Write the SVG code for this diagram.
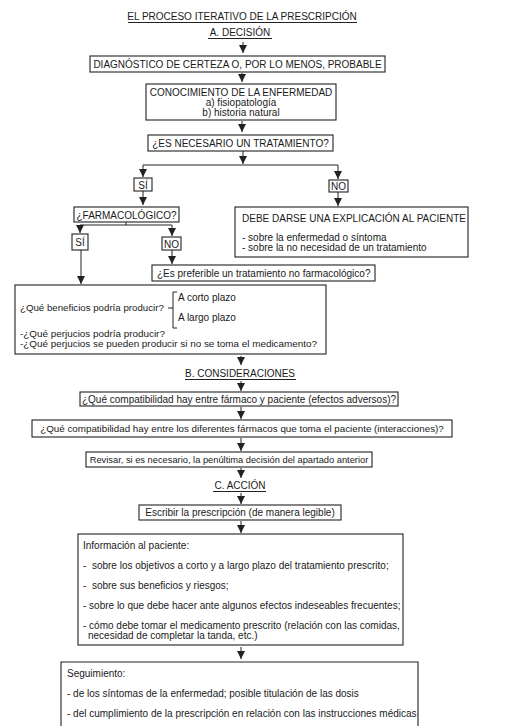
<svg xmlns="http://www.w3.org/2000/svg" width="506" height="726" viewBox="0 0 506 726">
<style>
text{font-family:"Liberation Sans",Arial,sans-serif;font-size:10px;fill:#1a1a1a}
.c{text-anchor:middle}
.s{font-size:9.9px}
.box{fill:none;stroke:#222;stroke-width:1.1}
.ln{fill:none;stroke:#222;stroke-width:1}
.ar{fill:none;stroke:#222;stroke-width:1;marker-end:url(#ah)}
</style>
<defs>
<marker id="ah" markerUnits="userSpaceOnUse" markerWidth="8" markerHeight="8" refX="7" refY="3.5" orient="auto" viewBox="0 0 7 7">
<path d="M0,0 L7,3.5 L0,7 Z" fill="#222"/>
</marker>
</defs>
<rect width="506" height="726" fill="#fff"/>

<g id="headings">
<text class="c" x="242" y="20">EL PROCESO ITERATIVO DE LA PRESCRIPCIÓN</text>
<line class="ln" x1="128" y1="22.5" x2="357" y2="22.5"/>
<text class="c" x="240" y="36">A. DECISIÓN</text>
<line class="ln" x1="208" y1="38.5" x2="272" y2="38.5"/>
<text class="c" x="240" y="377">B. CONSIDERACIONES</text>
<line class="ln" x1="185" y1="379.5" x2="296" y2="379.5"/>
<text class="c" x="240" y="489">C. ACCIÓN</text>
<line class="ln" x1="213" y1="491.5" x2="266" y2="491.5"/>
</g>

<g id="diagnostico">
<rect class="box" x="90" y="56" width="295" height="16"/>
<text class="c" x="237.5" y="68">DIAGNÓSTICO DE CERTEZA O, POR LO MENOS, PROBABLE</text>
</g>
<g id="conocimiento">
<rect class="box" x="146" y="84" width="190" height="36"/>
<text class="c" x="241" y="96">CONOCIMIENTO DE LA ENFERMEDAD</text>
<text class="c" x="241" y="106">a) fisiopatología</text>
<text class="c" x="241" y="116">b) historia natural</text>
</g>
<g id="necesario">
<rect class="box" x="148" y="135" width="185" height="16"/>
<text class="c" x="240.5" y="147">¿ES NECESARIO UN TRATAMIENTO?</text>
</g>
<g id="si1">
<rect class="box" x="134" y="178" width="18" height="13"/>
<text class="c" x="143" y="188.5">SÍ</text>
</g>
<g id="no1">
<rect class="box" x="329" y="180" width="19" height="12"/>
<text class="c" x="338.5" y="190">NO</text>
</g>
<g id="farmacologico">
<rect class="box" x="74" y="207" width="105" height="15"/>
<text class="c" x="126.5" y="218.5">¿FARMACOLÓGICO?</text>
</g>
<g id="explicacion">
<rect class="box" x="235" y="207" width="233" height="50"/>
<text x="242" y="222">DEBE DARSE UNA EXPLICACIÓN AL PACIENTE</text>
<text x="242" y="241">- sobre la enfermedad o síntoma</text>
<text x="242" y="251">- sobre la no necesidad de un tratamiento</text>
</g>
<g id="si2">
<rect class="box" x="72" y="234" width="16" height="16"/>
<text class="c" x="80" y="246">SÍ</text>
</g>
<g id="no2">
<rect class="box" x="162" y="237" width="19" height="13"/>
<text class="c" x="171.5" y="247.5">NO</text>
</g>
<g id="nofarmacologico">
<rect class="box" x="152" y="265" width="223" height="16"/>
<text x="157" y="276.5">¿Es preferible un tratamiento no farmacológico?</text>
</g>
<g id="beneficios">
<rect class="box" x="15" y="285" width="311" height="69"/>
<text x="20" y="311" style="font-size:9.7px">¿Qué beneficios podría producir?</text>
<path class="ln" d="M168,308 H173 M177,292 H173 V328 H177"/>
<text x="178" y="301">A corto plazo</text>
<text x="178" y="321">A largo plazo</text>
<text class="s" x="20" y="336.5">-¿Qué perjucios podría producir?</text>
<text class="s" x="20" y="346.5">-¿Qué perjucios se pueden producir si no se toma el medicamento?</text>
</g>
<g id="compat1">
<rect class="box" x="80" y="392" width="318" height="14"/>
<text class="c" x="239" y="403">¿Qué compatibilidad hay entre fármaco y paciente (efectos adversos)?</text>
</g>
<g id="compat2">
<rect class="box" x="32" y="420" width="420" height="17"/>
<text class="c" x="242" y="432" style="font-size:9.8px">¿Qué compatibilidad hay entre los diferentes fármacos que toma el paciente (interacciones)?</text>
</g>
<g id="revisar">
<rect class="box" x="86" y="452" width="286" height="15"/>
<text class="c" x="229" y="463" style="font-size:9.3px">Revisar, si es necesario, la penúltima decisión del apartado anterior</text>
</g>
<g id="escribir">
<rect class="box" x="139" y="505" width="202" height="15"/>
<text class="c" x="240" y="516">Escribir la prescripción (de manera legible)</text>
</g>
<g id="informacion">
<rect class="box" x="78" y="534" width="325" height="111"/>
<text x="83" y="548.5">Información al paciente:</text>
<text x="83" y="568.5" xml:space="preserve">-  sobre los objetivos a corto y a largo plazo del tratamiento prescrito;</text>
<text x="83" y="588.5" xml:space="preserve">-  sobre sus beneficios y riesgos;</text>
<text x="83" y="608.5">- sobre lo que debe hacer ante algunos efectos indeseables frecuentes;</text>
<text x="83" y="628.5">- cómo debe tomar el medicamento prescrito (relación con las comidas,</text>
<text x="88" y="638.5">necesidad de completar la tanda, etc.)</text>
</g>
<g id="seguimiento">
<path class="box" d="M61,730 V662 H418 V730"/>
<text x="67" y="676.5">Seguimiento:</text>
<text x="67" y="696.5">- de los síntomas de la enfermedad; posible titulación de las dosis</text>
<text x="67" y="716.5">- del cumplimiento de la prescripción en relación con las instrucciones médicas</text>
</g>

<g id="connectors">
<line class="ar" x1="243" y1="42" x2="243" y2="53"/>
<line class="ar" x1="242" y1="73" x2="242" y2="82"/>
<line class="ar" x1="242" y1="121" x2="242" y2="132"/>
<line class="ar" x1="243" y1="151" x2="243" y2="164"/>
<path class="ln" d="M143,165 H338"/>
<line class="ar" x1="143" y1="165" x2="143" y2="177"/>
<line class="ar" x1="338" y1="165" x2="338" y2="179"/>
<line class="ar" x1="143" y1="191" x2="143" y2="205"/>
<line class="ar" x1="338" y1="192" x2="338" y2="206"/>
<path class="ln" d="M126,222 V225 M80,225 H172"/>
<line class="ar" x1="80" y1="225" x2="80" y2="233"/>
<line class="ar" x1="172" y1="225" x2="172" y2="236"/>
<line class="ar" x1="172" y1="250" x2="172" y2="264"/>
<line class="ar" x1="81" y1="250" x2="81" y2="284"/>
<line class="ar" x1="241" y1="356" x2="241" y2="365"/>
<line class="ar" x1="241" y1="381" x2="241" y2="391"/>
<line class="ar" x1="241" y1="407" x2="241" y2="419"/>
<line class="ar" x1="241" y1="438" x2="241" y2="451"/>
<line class="ar" x1="241" y1="468" x2="241" y2="478"/>
<line class="ar" x1="241" y1="493" x2="241" y2="504"/>
<line class="ar" x1="241" y1="521" x2="241" y2="533"/>
<line class="ar" x1="241" y1="647" x2="241" y2="659"/>
</g>
</svg>
